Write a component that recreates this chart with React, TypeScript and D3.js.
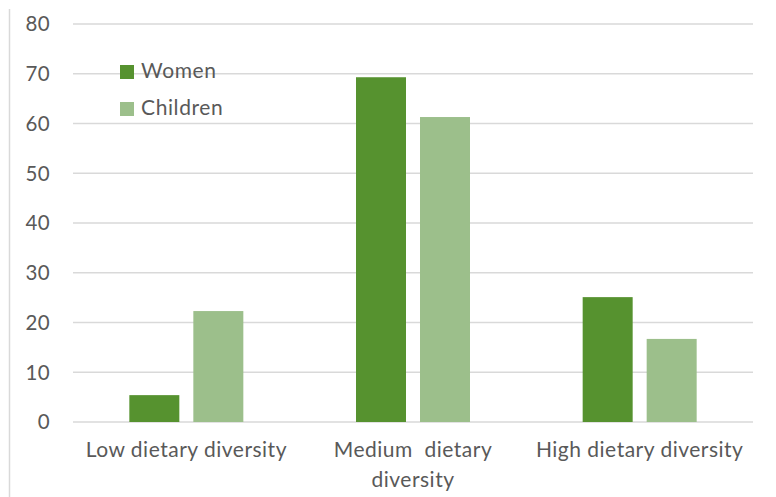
import React from "react";
import * as d3 from "d3";

const categories = ["Low dietary diversity", "Medium  dietary diversity", "High dietary diversity"];
const categoryLines = [["Low dietary diversity"], ["Medium  dietary", "diversity"], ["High dietary diversity"]];
const seriesNames = ["Women", "Children"];
const women = [5.4, 69.3, 25.1];
const children = [22.3, 61.3, 16.7];
const yTicks = [0, 10, 20, 30, 40, 50, 60, 70, 80];

const W = 776, H = 497;
const colors = ["#56922F", "#9CBF8B"];
const font = "Lato, 'Open Sans', sans-serif";

export default function App() {
  const x0 = d3.scaleBand().domain(categories).range([73, 753]).paddingInner(0).paddingOuter(0);
  const x1 = d3.scaleBand().domain(seriesNames).range([0, 114]).paddingInner(14 / 64).paddingOuter(0);
  const y = d3.scaleLinear().domain([0, 80]).range([422, 24]);
  const series = [women, children];
  return (
    <svg width={W} height={H} style={{ position: "absolute", left: 0, top: 0 }}>
      <rect x={0} y={0} width={W} height={H} fill="#fff" />
      <line x1={9.5} x2={9.5} y1={9} y2={H} stroke="#D9D9D9" strokeWidth={1.5} />
      {yTicks.map((t) => (
        <g key={t}>
          <line x1={73} x2={753} y1={y(t)} y2={y(t)} stroke="#D9D9D9" strokeWidth={1.5} />
          <text x={50} y={y(t)} dy="0.36em" textAnchor="end" fontFamily={font} fontSize={20.5} letterSpacing={0.3} fill="#595959">{t}</text>
        </g>
      ))}
      {categories.map((c, i) => {
        const gx = x0(c)! + (x0.bandwidth() - 114) / 2;
        return (
          <g key={c}>
            {series.map((s, j) => (
              <rect key={j} x={gx + x1(seriesNames[j])!} width={x1.bandwidth()} y={y(s[i])} height={y(0) - y(s[i])} fill={colors[j]} />
            ))}
            {categoryLines[i].map((ln, k) => (
              <text key={k} x={x0(c)! + x0.bandwidth() / 2} y={457 + k * 30} textAnchor="middle" fontFamily={font} fontSize={21} letterSpacing={0.5} fill="#595959" style={{ whiteSpace: "pre" }}>{ln}</text>
            ))}
          </g>
        );
      })}
      {seriesNames.map((n, j) => (
        <g key={n} transform={`translate(120, ${65 + j * 37})`}>
          <rect x={0} y={0} width={14} height={14} fill={colors[j]} />
          <text x={21} y={13} fontFamily={font} fontSize={21} letterSpacing={0.6} fill="#595959">{n}</text>
        </g>
      ))}
    </svg>
  );
}
